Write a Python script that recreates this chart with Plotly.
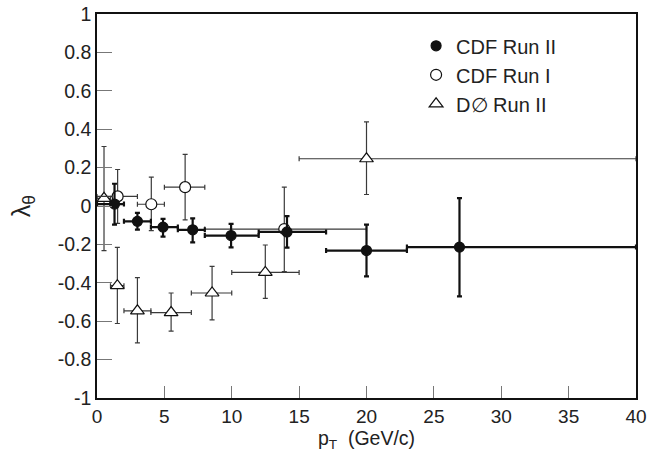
import plotly.graph_objects as go

# ---------------- data ----------------
# CDF Run II (filled circles)
cdf2_x = [1.3, 3.0, 4.9, 7.1, 9.95, 14.1, 20.0, 26.9]
cdf2_xlo = [0, 2, 4, 6, 8, 12, 17, 23]
cdf2_xhi = [2, 4, 6, 8, 12, 17, 23, 40]
cdf2_y = [0.01, -0.08, -0.11, -0.124, -0.154, -0.135, -0.232, -0.214]
cdf2_ylo = [-0.097, -0.123, -0.159, -0.189, -0.215, -0.217, -0.367, -0.471]
cdf2_yhi = [0.116, -0.036, -0.067, -0.064, -0.093, -0.053, -0.097, 0.041]

# CDF Run I (open circles)
cdf1_x = [1.53, 4.03, 6.54, 13.9]
cdf1_xlo = [0, 3, 5, 8]
cdf1_xhi = [3, 5, 8, 20]
cdf1_y = [0.05, 0.009, 0.098, -0.12]
cdf1_ylo = [-0.09, -0.128, -0.072, -0.342]
cdf1_yhi = [0.19, 0.15, 0.269, 0.098]

# D0 Run II (open triangles)
d0_x = [0.52, 1.51, 3.0, 5.5, 8.54, 12.49, 20.0]
d0_xlo = [0, 1, 2, 4, 7, 10, 15]
d0_xhi = [1, 2, 4, 7, 10, 15, 40]
d0_y = [0.04, -0.415, -0.546, -0.555, -0.453, -0.346, 0.246]
d0_ylo = [-0.232, -0.612, -0.713, -0.652, -0.593, -0.481, 0.06]
d0_yhi = [0.31, -0.215, -0.373, -0.453, -0.314, -0.203, 0.438]

x_ticks = [0, 5, 10, 15, 20, 25, 30, 35, 40]
y_ticks = [1, 0.8, 0.6, 0.4, 0.2, 0, -0.2, -0.4, -0.6, -0.8, -1]
y_ticktext = ["1", "0.8", "0.6", "0.4", "0.2", "0", "-0.2", "-0.4", "-0.6", "-0.8", "-1"]

FONT = "Liberation Sans, Arial, Helvetica, sans-serif"


def errs(c, lo, hi):
    return [h - v for v, h in zip(c, hi)], [v - l for v, l in zip(c, lo)]


fig = go.Figure()


def add_series(name, x, xlo, xhi, y, ylo, yhi, symbol, fill, ecolor, ethick, size):
    exp, exm = errs(x, xlo, xhi)
    eyp, eym = errs(y, ylo, yhi)
    fig.add_trace(go.Scatter(
        x=x, y=y, mode="markers", name=name,
        marker=dict(symbol=symbol, size=size, color=fill,
                    line=dict(color="#111111", width=1.2)),
        error_x=dict(type="data", symmetric=False, array=exp, arrayminus=exm,
                     color=ecolor, thickness=ethick, width=2.5),
        error_y=dict(type="data", symmetric=False, array=eyp, arrayminus=eym,
                     color=ecolor, thickness=ethick, width=2.5),
        cliponaxis=True,
    ))


add_series("D\u2205 Run II", d0_x, d0_xlo, d0_xhi, d0_y, d0_ylo, d0_yhi,
           "triangle-up", "white", "#3a3a3a", 1.2, 12)
add_series("CDF Run I", cdf1_x, cdf1_xlo, cdf1_xhi, cdf1_y, cdf1_ylo, cdf1_yhi,
           "circle", "white", "#3a3a3a", 1.2, 11)
add_series("CDF Run II", cdf2_x, cdf2_xlo, cdf2_xhi, cdf2_y, cdf2_ylo, cdf2_yhi,
           "circle", "#111111", "#111111", 2.2, 10)

fig.update_layout(
    width=648, height=459,
    margin=dict(l=97, r=12, t=14, b=61, autoexpand=False),
    paper_bgcolor="white", plot_bgcolor="white",
    font=dict(family=FONT, size=19, color="#222222"),
    showlegend=True,
    legend=dict(x=0.592, y=0.968, xanchor="left", yanchor="top",
                traceorder="reversed", font=dict(size=20, color="#222222"),
                bgcolor="rgba(0,0,0,0)", itemwidth=30, tracegroupgap=0),
)

fig.update_xaxes(
    range=[0, 40], tickvals=x_ticks, ticktext=[str(v) for v in x_ticks],
    showgrid=False, zeroline=False, automargin=False,
    showline=True, linecolor="#111111", linewidth=1.6, mirror=True,
    ticks="inside", ticklen=12, tickwidth=1, tickcolor="#777777",
    tickfont=dict(size=19, color="#222222"),
    title=dict(text="p<sub>T</sub>  (GeV/c)", font=dict(size=19.5, color="#222222"), standoff=6),
)
fig.update_yaxes(
    range=[-1, 1], tickvals=y_ticks, ticktext=y_ticktext,
    showgrid=False, zeroline=False, automargin=False,
    showline=True, linecolor="#111111", linewidth=1.6, mirror=True,
    ticks="inside", ticklen=15, tickwidth=1, tickcolor="#777777",
    tickfont=dict(size=19.5, color="#222222"),
    title=dict(text="\u03bb<sub>\u03b8</sub>", font=dict(size=25, color="#222222"), standoff=20),
)

fig.write_html("out.html", config={"displayModeBar": False},
               post_script="document.body.style.margin='0';document.body.style.overflow='hidden';")
